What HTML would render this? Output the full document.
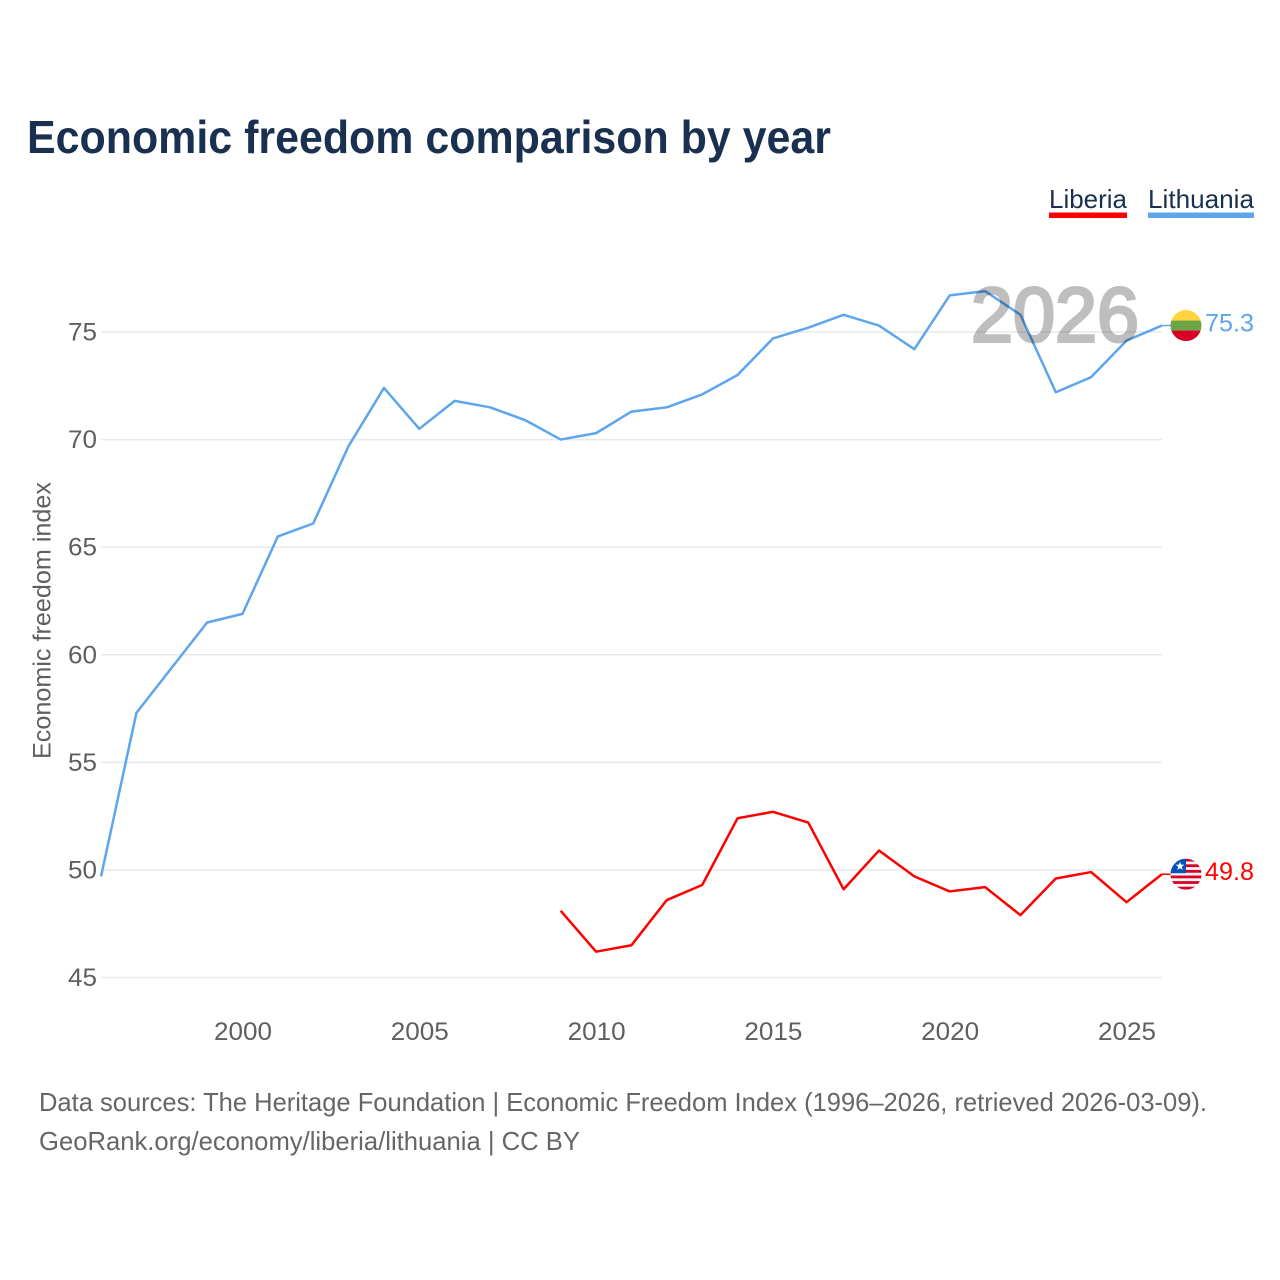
<!DOCTYPE html>
<html lang="en">
<head>
<meta charset="utf-8">
<title>Economic freedom comparison by year</title>
<style>
html,body{margin:0;padding:0;background:#fff;width:1280px;height:1280px;overflow:hidden}
svg{display:block;font-family:"Liberation Sans",sans-serif}
</style>
</head>
<body>
<svg id="chart" xmlns="http://www.w3.org/2000/svg" width="1280" height="1280" viewBox="0 0 1280 1280">
  <defs>
    <clipPath id="clip-lt"><circle id="clip-lt-c" r="15.5" cx="1186" cy="325"/></clipPath>
    <clipPath id="clip-lr"><circle id="clip-lr-c" r="15.5" cx="1186" cy="873"/></clipPath>
  </defs>
  <rect width="1280" height="1280" fill="#fff"/>
  <text x="27" y="153" font-size="46" font-weight="700" fill="#1a3050" textLength="804" lengthAdjust="spacingAndGlyphs">Economic freedom comparison by year</text>
  <g>
    <g>
      <text x="1049" y="208" font-size="26" fill="#1a3050" textLength="78" lengthAdjust="spacingAndGlyphs">Liberia</text>
      <rect x="1049" y="212.5" width="78" height="5.5" fill="#ff0000"/>
    </g>
    <g>
      <text x="1148" y="208" font-size="26" fill="#1a3050" textLength="106" lengthAdjust="spacingAndGlyphs">Lithuania</text>
      <rect x="1148" y="212.5" width="106" height="5.5" fill="#5ea5ee"/>
    </g>
  </g>
  <text transform="translate(50.5,759) rotate(-90)" x="0" y="0" font-size="25" fill="#5f5f5f" textLength="277" lengthAdjust="spacingAndGlyphs">Economic freedom index</text>
  <g id="grid"></g>
  <g id="yticks"></g>
  <g id="xticks"></g>
  <g id="series"></g>
  <text x="971" y="341.5" font-size="77" fill="#000" stroke="#000" stroke-width="3" opacity="0.25" textLength="168" lengthAdjust="spacingAndGlyphs">2026</text>
  <g id="flags"></g>
  <g font-size="26" fill="#666">
    <text x="39" y="1111" textLength="1168" lengthAdjust="spacingAndGlyphs">Data sources: The Heritage Foundation | Economic Freedom Index (1996–2026, retrieved 2026-03-09).</text>
    <text x="39" y="1150" textLength="541" lengthAdjust="spacingAndGlyphs">GeoRank.org/economy/liberia/lithuania | CC BY</text>
  </g>
</svg>
<script>
const yTickValues = [45, 50, 55, 60, 65, 70, 75];
const xTickValues = [2000, 2005, 2010, 2015, 2020, 2025];
const lithuaniaYears = [1996,1997,1998,1999,2000,2001,2002,2003,2004,2005,2006,2007,2008,2009,2010,2011,2012,2013,2014,2015,2016,2017,2018,2019,2020,2021,2022,2023,2024,2025,2026];
const lithuaniaValues = [49.7,57.3,59.4,61.5,61.9,65.5,66.1,69.7,72.4,70.5,71.8,71.5,70.9,70.0,70.3,71.3,71.5,72.1,73.0,74.7,75.2,75.8,75.3,74.2,76.7,76.9,75.8,72.2,72.9,74.6,75.3];
const liberiaYears = [2009,2010,2011,2012,2013,2014,2015,2016,2017,2018,2019,2020,2021,2022,2023,2024,2025,2026];
const liberiaValues = [48.1,46.2,46.5,48.6,49.3,52.4,52.7,52.2,49.1,50.9,49.7,49.0,49.2,47.9,49.6,49.9,48.5,49.8];

const NS = 'http://www.w3.org/2000/svg';
function xScale(year) { return 242.5 + (year - 2000) * (1126.5 - 242.5) / 25; }
function yScale(v) { return 977.5 - (v - 45) * (977.5 - 332) / 30; }
function mk(tag, attrs, parent) {
  const e = document.createElementNS(NS, tag);
  for (const k in attrs) e.setAttribute(k, attrs[k]);
  parent.appendChild(e);
  return e;
}
const gridG = document.getElementById('grid');
const yG = document.getElementById('yticks');
const xG = document.getElementById('xticks');
const seriesG = document.getElementById('series');
const flagsG = document.getElementById('flags');

yTickValues.forEach(function (v) {
  const l = mk('line', {x1: xScale(1996), x2: xScale(2026), y1: yScale(v), y2: yScale(v), stroke: '#e9e9e9', 'stroke-width': 1.5}, gridG);
  
  
  const t = mk('text', {x: 68, y: yScale(v) + 8.5, 'font-size': 25, fill: '#5f5f5f', textLength: 29, lengthAdjust: 'spacingAndGlyphs'}, yG);
  t.textContent = String(v);
  
  
});
xTickValues.forEach(function (yr) {
  const t = mk('text', {x: xScale(yr) - 28.5, y: 1040, 'font-size': 25, fill: '#5f5f5f', textLength: 58, lengthAdjust: 'spacingAndGlyphs'}, xG);
  t.textContent = String(yr);
  
  
});
function pathFor(years, values) {
  return values.map(function (v, i) {
    return (i ? 'L' : 'M') + xScale(years[i]).toFixed(2) + ' ' + yScale(v).toFixed(2);
  }).join(' ');
}
function drawSeries(years, values, color, key) {
  const p = mk('path', {d: pathFor(years, values), fill: 'none', stroke: color, 'stroke-width': 2.5, 'stroke-linejoin': 'round'}, seriesG);
  
  
  const last = values[values.length - 1];
  const yEnd = yScale(last);
  const c = mk('line', {x1: xScale(2026), x2: 1172, y1: yEnd, y2: yEnd, stroke: color, 'stroke-width': 1.5}, seriesG);
  
  
  const t = mk('text', {x: 1205, y: yEnd + 6, 'font-size': 25, fill: color, textLength: 49, lengthAdjust: 'spacingAndGlyphs'}, flagsG);
  t.textContent = last.toFixed(1);
  
  
  return yEnd;
}
const ltY = drawSeries(lithuaniaYears, lithuaniaValues, '#5ea5ee', 'lithuania');
const lrY = drawSeries(liberiaYears, liberiaValues, '#ff0000', 'liberia');

document.getElementById('clip-lt-c').setAttribute('cy', ltY);
document.getElementById('clip-lr-c').setAttribute('cy', lrY);

const ltFlag = mk('g', {'clip-path': 'url(#clip-lt)'}, flagsG);


mk('rect', {x: 1170, y: ltY - 16, width: 32, height: 11, fill: '#ffd43f'}, ltFlag);
mk('rect', {x: 1170, y: ltY - 5, width: 32, height: 10, fill: '#6da544'}, ltFlag);
mk('rect', {x: 1170, y: ltY + 5, width: 32, height: 11, fill: '#d80027'}, ltFlag);

const lrFlag = mk('g', {'clip-path': 'url(#clip-lr)'}, flagsG);


mk('rect', {x: 1170, y: lrY - 16, width: 32, height: 32, fill: '#f4f4f4'}, lrFlag);
for (let i = 0; i < 6; i++) {
  mk('rect', {x: 1170, y: lrY - 15.5 + i * 5.6, width: 32, height: 2.8, fill: '#d80027'}, lrFlag);
}
mk('rect', {x: 1170, y: lrY - 16, width: 16, height: 15, fill: '#0052b4'}, lrFlag);
const star = [];
for (let i = 0; i < 10; i++) {
  const r = i % 2 ? 1.9 : 4.6;
  const a = -Math.PI / 2 + i * Math.PI / 5;
  star.push((1180 + r * Math.cos(a)).toFixed(2) + ',' + (lrY - 8 + r * Math.sin(a)).toFixed(2));
}
mk('polygon', {points: star.join(' '), fill: '#fff'}, lrFlag);
</script>
</body>
</html>
